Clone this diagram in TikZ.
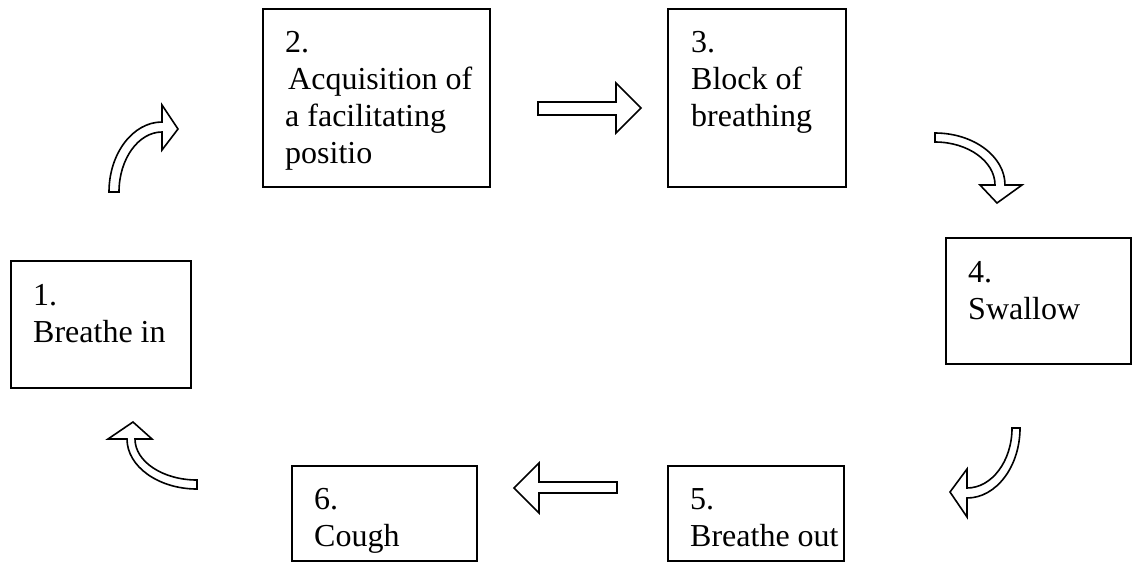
\documentclass[tikz,border=0pt]{standalone}
\usepackage{fontspec}
\setmainfont{Liberation Serif}
\begin{document}
\begin{tikzpicture}[x=1pt,y=-1pt,
  box/.style={draw, line width=1.6pt, minimum width=#1, anchor=north west, inner sep=0pt},
  txt/.style={anchor=base west, inner sep=0pt, font=\fontsize{32}{37}\selectfont},
  barrow/.style={draw, fill=white, line width=1.6pt, line join=miter}]
\useasboundingbox (0,0) rectangle (1139,566);
% boxes
\node[box=180pt, minimum height=127pt] (b1) at (10,260) {};
\node[box=227pt, minimum height=178pt] (b2) at (262,8) {};
\node[box=178pt, minimum height=178pt] (b3) at (667,8) {};
\node[box=185pt, minimum height=126pt] (b4) at (945,237) {};
\node[box=176pt, minimum height=95pt] (b5) at (667,465) {};
\node[box=185pt, minimum height=95pt] (b6) at (291,465) {};
% texts
\node[txt] (t1) at (33,305) {\begin{tabular}[t]{@{}l@{}}1.\\Breathe in\end{tabular}};
\node[txt] (t2) at (285,52) {\begin{tabular}[t]{@{}l@{}}2.\\\hspace*{3pt}Acquisition of\\a facilitating\\positio\end{tabular}};
\node[txt] (t3) at (691,52) {\begin{tabular}[t]{@{}l@{}}3.\\Block of\\breathing\end{tabular}};
\node[txt] (t4) at (968,282) {\begin{tabular}[t]{@{}l@{}}4.\\Swallow\end{tabular}};
\node[txt] (t5) at (690,509) {\begin{tabular}[t]{@{}l@{}}5.\\Breathe out\end{tabular}};
\node[txt] (t6) at (314,509) {\begin{tabular}[t]{@{}l@{}}6.\\Cough\end{tabular}};
% block arrows
\draw[barrow] (109,192) .. controls (109,153.5) and (132.9,122) .. (162,122) -- (162,105) -- (178,129) -- (162,150) -- (162,132) .. controls (138.4,132) and (119,159) .. (119,192) -- cycle;
\draw[barrow] (538,102) -- (616,102) -- (616,83) -- (641,108) -- (616,133) -- (616,115) -- (538,115) -- cycle;
\draw[barrow] (935,133) .. controls (973.5,133) and (1005,156.4) .. (1005,185) -- (1022,185) -- (997,203) -- (980,185) -- (995,185) .. controls (995,161.4) and (968,142) .. (935,142) -- cycle;
\draw[barrow] (1020,428) .. controls (1020,466.5) and (996.2,498) .. (967,498) -- (967,517) -- (950,492) -- (967,469) -- (967,488) .. controls (991.8,488) and (1012,461) .. (1012,428) -- cycle;
\draw[barrow] (617,482) -- (539,482) -- (539,463) -- (514,488) -- (539,513) -- (539,493) -- (617,493) -- cycle;
\draw[barrow] (197,489) .. controls (158.5,489) and (127,466.5) .. (127,439) -- (108,439) -- (133,422) -- (152,439) -- (135,439) .. controls (135,461.6) and (162.9,480) .. (197,480) -- cycle;
\end{tikzpicture}
\end{document}
